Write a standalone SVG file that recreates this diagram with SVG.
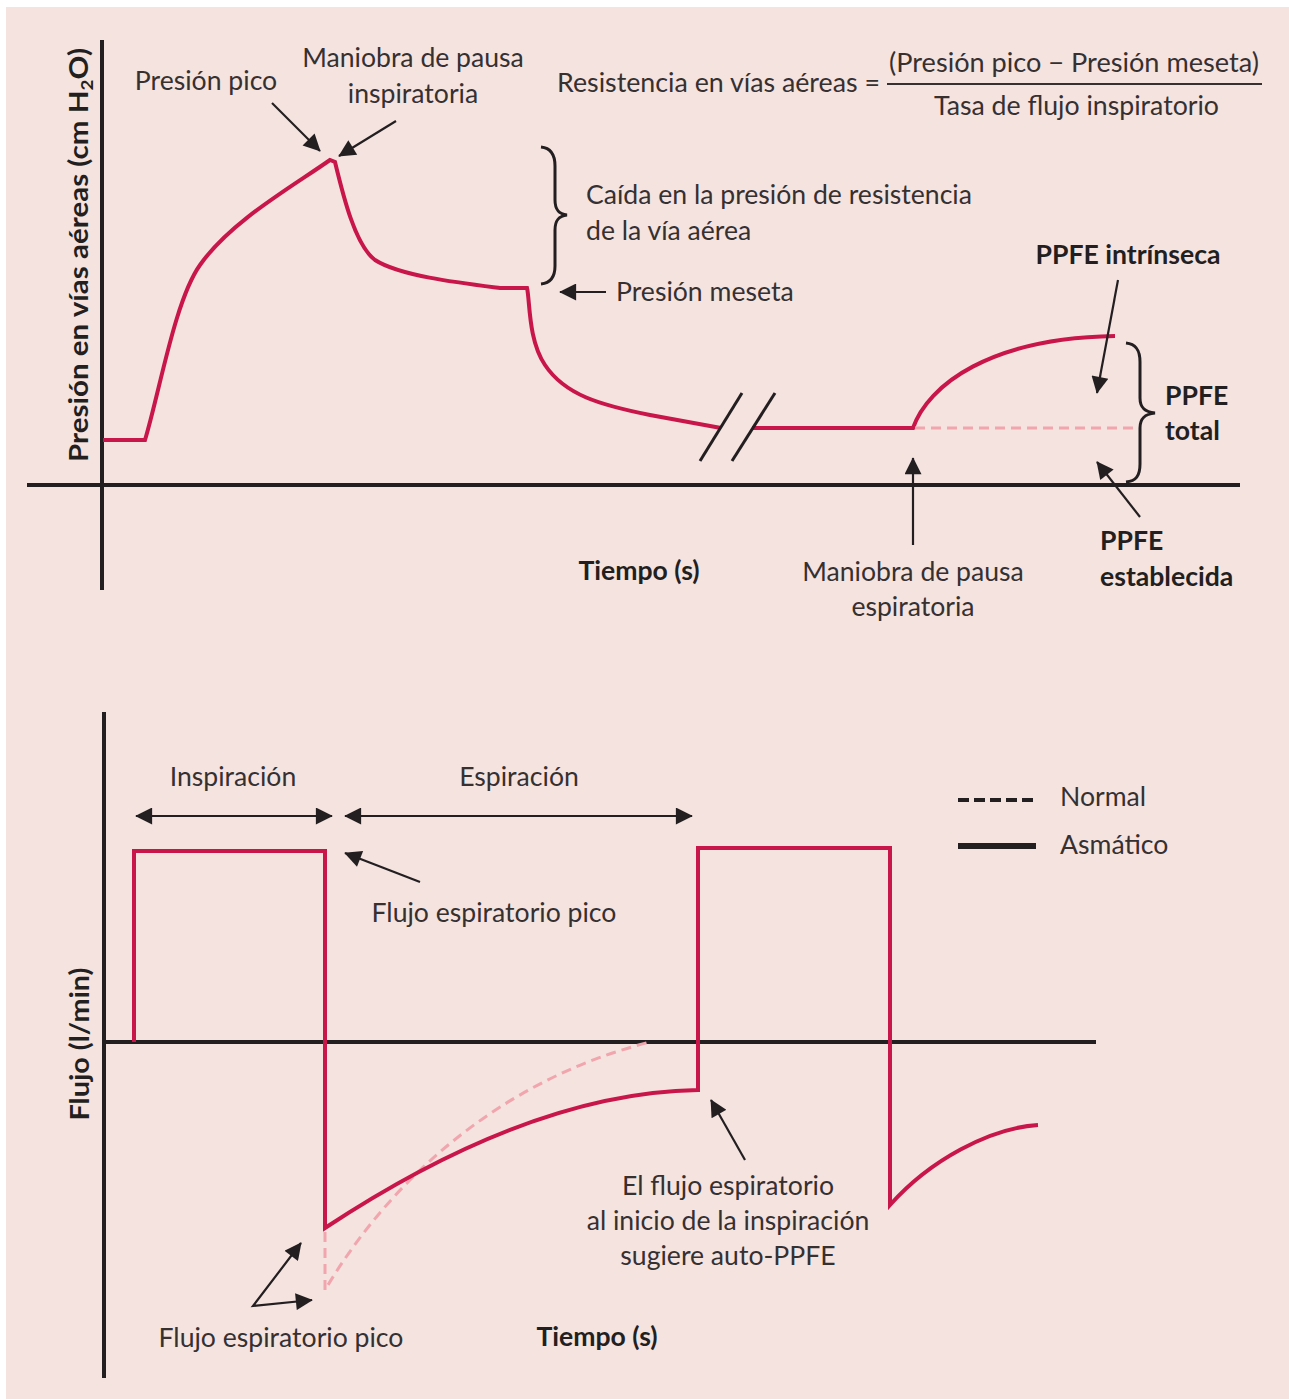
<svg xmlns="http://www.w3.org/2000/svg" width="1289" height="1399" viewBox="0 0 1289 1399">
  <style>
    text { font-family: Lato, "Open Sans", "Liberation Sans", sans-serif; fill: #363031; font-size: 26.6px; }
    .b { font-weight: bold; fill: #231F20; }
    .ax { stroke: #231F20; stroke-width: 4; fill: none; }
    .wave { stroke: #C8164A; stroke-width: 4; fill: none; stroke-linejoin: miter; }
    .ref { stroke: #F1A6AE; stroke-width: 3; fill: none; stroke-dasharray: 10 6; }
    .arr { stroke: #231F20; stroke-width: 2.2; fill: none; }
    .brace { stroke: #231F20; stroke-width: 3; fill: none; }
    .m { text-anchor: middle; }
  </style>
  <defs>
    <marker id="ah" viewBox="0 0 10 10" refX="9.5" refY="5" markerWidth="20" markerHeight="17" markerUnits="userSpaceOnUse" orient="auto-start-reverse">
      <path d="M0,0 L10,5 L0,10 z" fill="#231F20"/>
    </marker>
  </defs>

  <!-- page background -->
  <rect x="6" y="7" width="1283" height="1392" fill="#F5E3E0"/>

  <!-- ===== Upper chart: airway pressure ===== -->
  <g id="pressure-axes">
    <line class="ax" x1="102" y1="40" x2="102" y2="590" stroke-width="3"/>
    <line class="ax" x1="27" y1="485" x2="1240" y2="485"/>
    <text class="b m" font-size="24" textLength="414" lengthAdjust="spacingAndGlyphs" transform="translate(88,255) rotate(-90)">Presión en vías aéreas (cm H<tspan font-size="17" dy="5">2</tspan><tspan dy="-5">O)</tspan></text>
    <text class="b m" x="639" y="580">Tiempo (s)</text>
  </g>

  <g id="pressure-trace">
    <path class="wave" d="M103,440 H145 C160,390 175,300 200,265 C230,222 290,188 330,160 L335,162 C343,195 355,245 375,260 C400,276 460,283 500,288 L527,288 C530,300 528,340 545,365 C565,395 600,405 650,415 L721,428"/>
    <path class="wave" d="M752,428 H913 C928,385 990,338 1115,336"/>
    <line class="ref" x1="915" y1="428" x2="1135" y2="428"/>
    <!-- axis break marks -->
    <line x1="700" y1="461" x2="742" y2="393" stroke="#231F20" stroke-width="3"/>
    <line x1="732" y1="461" x2="775" y2="393" stroke="#231F20" stroke-width="3"/>
  </g>

  <g id="label-presion-pico">
    <text class="m" x="206" y="90">Presión pico</text>
  </g>
  <g id="label-pausa-inspiratoria">
    <text class="m" x="413" y="67">Maniobra de pausa</text>
    <text class="m" x="413" y="103">inspiratoria</text>
  </g>
  <g id="label-formula">
    <text x="557" y="92" textLength="323" lengthAdjust="spacingAndGlyphs" font-size="25">Resistencia en vías aéreas =</text>
    <line x1="887" y1="84" x2="1262" y2="84" stroke="#363031" stroke-width="2"/>
    <text x="889" y="72" textLength="370" lengthAdjust="spacingAndGlyphs" font-size="25">(Presión pico − Presión meseta)</text>
    <text x="934" y="115" textLength="285" lengthAdjust="spacingAndGlyphs" font-size="25">Tasa de flujo inspiratorio</text>
  </g>
  <g id="label-caida">
    <path class="brace" d="M541,147 C551,148 555,155 555,166 L555,200 C555,210 559,214 567,215 C559,216 555,220 555,230 L555,266 C555,277 551,283 541,284"/>
    <text x="586" y="204">Caída en la presión de resistencia</text>
    <text x="586" y="240">de la vía aérea</text>
  </g>
  <g id="label-presion-meseta">
    <text x="616" y="301">Presión meseta</text>
  </g>
  <g id="label-ppfe-intrinseca">
    <text class="b m" x="1128" y="264">PPFE intrínseca</text>
  </g>
  <g id="label-ppfe-total">
    <path class="brace" d="M1126,343 C1136,344 1140,350 1140,362 L1140,398 C1140,408 1145,412 1155,413 C1145,414 1140,418 1140,428 L1140,464 C1140,476 1136,481 1126,482"/>
    <text class="b" x="1165" y="405">PPFE</text>
    <text class="b" x="1165" y="440">total</text>
  </g>
  <g id="label-ppfe-establecida">
    <text class="b" x="1100" y="550">PPFE</text>
    <text class="b" x="1100" y="586">establecida</text>
  </g>
  <g id="label-pausa-espiratoria">
    <text class="m" x="913" y="581">Maniobra de pausa</text>
    <text class="m" x="913" y="616">espiratoria</text>
  </g>

  <!-- ===== Lower chart: flow ===== -->
  <g id="flow-axes">
    <line class="ax" x1="104" y1="712" x2="104" y2="1378"/>
    <line class="ax" x1="104" y1="1042" x2="1096" y2="1042"/>
    <text class="b m" font-size="24" textLength="153" lengthAdjust="spacingAndGlyphs" transform="translate(89,1044) rotate(-90)">Flujo (l/min)</text>
    <text class="b m" x="597" y="1346">Tiempo (s)</text>
  </g>

  <g id="flow-trace">
    <path class="ref" d="M325,1232 V1290 C390,1180 500,1080 650,1042"/>
    <path class="wave" d="M134,1042 V851 H325 V1228 C425,1162 560,1092 698,1090 V848 H890 V1205 C930,1160 990,1128 1038,1125"/>
  </g>

  <g id="label-inspiracion">
    <text class="m" x="233" y="786">Inspiración</text>
  </g>
  <g id="label-espiracion">
    <text class="m" x="519" y="786">Espiración</text>
  </g>
  <g id="legend">
    <line x1="958" y1="800" x2="1033" y2="800" stroke="#231F20" stroke-width="4" stroke-dasharray="11 5"/>
    <line x1="958" y1="846" x2="1036" y2="846" stroke="#231F20" stroke-width="6"/>
    <text x="1060" y="806">Normal</text>
    <text x="1060" y="854">Asmático</text>
  </g>
  <g id="label-flujo-pico-sup">
    <text class="m" x="494" y="922">Flujo espiratorio pico</text>
  </g>
  <g id="label-auto-ppfe">
    <text class="m" x="728" y="1195">El flujo espiratorio</text>
    <text class="m" x="728" y="1230">al inicio de la inspiración</text>
    <text class="m" x="728" y="1265">sugiere auto-PPFE</text>
  </g>
  <g id="label-flujo-pico-inf">
    <text class="m" x="281" y="1347">Flujo espiratorio pico</text>
  </g>

  <!-- ===== Connectors ===== -->
  <g id="connectors">
    <line class="arr" x1="272" y1="103" x2="320" y2="151" marker-end="url(#ah)"/>
    <line class="arr" x1="396" y1="121" x2="339" y2="156" marker-end="url(#ah)"/>
    <line class="arr" x1="606" y1="292" x2="560" y2="292" marker-end="url(#ah)"/>
    <line class="arr" x1="1118" y1="280" x2="1097" y2="393" marker-end="url(#ah)"/>
    <line class="arr" x1="1140" y1="517" x2="1097" y2="462" marker-end="url(#ah)"/>
    <line class="arr" x1="913" y1="545" x2="913" y2="458" marker-end="url(#ah)"/>
    <line class="arr" x1="136" y1="816" x2="332" y2="816" marker-start="url(#ah)" marker-end="url(#ah)"/>
    <line class="arr" x1="345" y1="816" x2="692" y2="816" marker-start="url(#ah)" marker-end="url(#ah)"/>
    <line class="arr" x1="420" y1="882" x2="345" y2="853" marker-end="url(#ah)"/>
    <line class="arr" x1="745" y1="1160" x2="711" y2="1100" marker-end="url(#ah)"/>
    <polyline class="arr" points="301,1243 253,1306 312,1300" marker-start="url(#ah)" marker-end="url(#ah)"/>
  </g>
</svg>
